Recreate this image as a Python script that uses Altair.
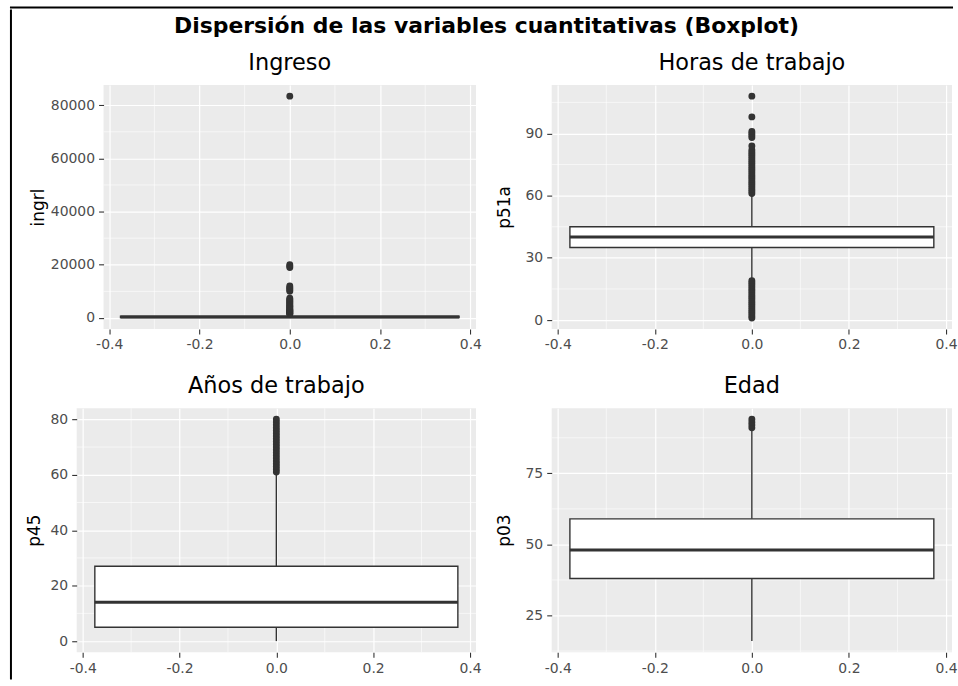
import altair as alt
import pandas as pd

# ---------------- data ----------------
MAIN_TITLE = "Dispersión de las variables cuantitativas (Boxplot)"
PANEL_TITLES = ["Ingreso", "Horas de trabajo", "Años de trabajo", "Edad"]
VAR_NAMES = ["ingrl", "p51a", "p45", "p03"]

# box statistics per variable
Q1 = [150, 35, 5, 38]
MEDIAN = [380, 40, 14, 48]
Q3 = [650, 45, 27, 59]
WHISK_LO = [0, 20, 0, 16]
WHISK_HI = [1400, 60, 60, 90]

# outliers per variable
OUT_INGRL = [1450, 1600, 1800, 2000, 2200, 2400, 2600, 2800, 3000, 3300, 3600,
             4000, 4300, 4600, 5000, 5400, 5800, 6200, 6600, 7000, 7400,
             10000, 10500, 11000, 11500, 12000, 19000, 19500, 20000, 83400]
OUT_P51A = [1, 2, 3, 4, 5, 6, 7, 8, 9, 10, 11, 12, 13, 14, 15, 16, 17, 18, 19,
            61, 62, 63, 64, 65, 66, 67, 68, 69, 70, 71, 72, 73, 74, 75, 76, 77,
            78, 79, 80, 81, 82, 84, 88, 89, 90, 91, 98, 108]
OUT_P45 = [61, 62, 63, 64, 65, 66, 67, 68, 69, 70, 71, 72, 73, 74, 75, 76, 77,
           78, 79, 80]
OUT_P03 = [91, 92, 93, 94]
OUTLIERS = [OUT_INGRL, OUT_P51A, OUT_P45, OUT_P03]

# axis ticks
X_TICKS = [-0.4, -0.2, 0.0, 0.2, 0.4]
X_MINOR = [-0.3, -0.1, 0.1, 0.3]
Y_TICKS = [[0, 20000, 40000, 60000, 80000], [0, 30, 60, 90],
           [0, 20, 40, 60, 80], [25, 50, 75]]
Y_MINOR = [[10000, 30000, 50000, 70000], [15, 45, 75, 105],
           [10, 30, 50, 70], [12.5, 37.5, 62.5, 87.5]]

BOX_HALF = 0.375

# ---------------- styling ----------------
FONT = "DejaVu Sans"
DARK = "#333333"
PANEL_W = [374, 402, 401, 402]
PANEL_H = 245
Y_TITLE_PAD = [3, 12, 7, 12]

x_lim = BOX_HALF * 1.1
xscale = alt.Scale(domain=[-x_lim, x_lim], nice=False, zero=False)
xaxis = alt.Axis(
    values=X_TICKS, title=None, grid=True,
    labelExpr="(datum.value < 0 ? '-' : '') + format(abs(datum.value), '.1f')",
)


def panel(i):
    outs = OUTLIERS[i]
    vals = outs + [WHISK_LO[i], WHISK_HI[i]]
    vmin, vmax = min(vals), max(vals)
    pad = 0.05 * (vmax - vmin)
    yscale = alt.Scale(domain=[vmin - pad, vmax + pad], nice=False, zero=False)
    yaxis = alt.Axis(values=Y_TICKS[i], format="d", title=VAR_NAMES[i], grid=True,
                     titlePadding=Y_TITLE_PAD[i])

    def X(f):
        return alt.X(f + ":Q", scale=xscale, axis=xaxis)

    def Y(f):
        return alt.Y(f + ":Q", scale=yscale, axis=yaxis)

    stats = pd.DataFrame({
        "x0": [0.0], "xmin": [-BOX_HALF], "xmax": [BOX_HALF],
        "q1": [Q1[i]], "med": [MEDIAN[i]], "q3": [Q3[i]],
        "lo": [WHISK_LO[i]], "hi": [WHISK_HI[i]],
    })
    out_df = pd.DataFrame({"x0": [0.0] * len(outs), "v": outs})

    minor_x = alt.Chart(pd.DataFrame({"v": X_MINOR})).mark_rule(
        color="white", strokeWidth=0.6).encode(x=X("v"))
    minor_y = alt.Chart(pd.DataFrame({"v": Y_MINOR[i]})).mark_rule(
        color="white", strokeWidth=0.6).encode(y=Y("v"))
    whisker = alt.Chart(stats).mark_rule(color=DARK, strokeWidth=1.4).encode(
        x=X("x0"), y=Y("lo"), y2="hi")
    box = alt.Chart(stats).mark_rect(fill="white", stroke=DARK, strokeWidth=1.4).encode(
        x=X("xmin"), x2="xmax", y=Y("q1"), y2="q3")
    med = alt.Chart(stats).mark_rule(color=DARK, strokeWidth=3).encode(
        x=X("xmin"), x2="xmax", y=Y("med"))
    pts = alt.Chart(out_df).mark_circle(color=DARK, size=48, opacity=1).encode(
        x=X("x0"), y=Y("v"))

    return alt.layer(minor_x, minor_y, whisker, box, med, pts).properties(
        width=PANEL_W[i], height=PANEL_H,
        title=alt.TitleParams(PANEL_TITLES[i], font=FONT, fontSize=22.5,
                              fontWeight="normal", color="black",
                              anchor="middle", frame="group", offset=10),
    )


blank = pd.DataFrame({"d": [0]})


def spacer():
    # invisible view that anchors each row at the same origin
    return alt.Chart(blank).mark_rule(opacity=0, strokeWidth=0).encode(
        x=alt.value(0), y=alt.value(0), y2=alt.value(1)
    ).properties(width=1, height=10, view=alt.ViewBackground(fill=None, stroke=None))


row1 = alt.hconcat(spacer(), alt.hconcat(panel(0), panel(1), spacing=13), spacing=16)
row2 = alt.hconcat(spacer(), alt.hconcat(panel(2), panel(3), spacing=13), spacing=12)
main = alt.vconcat(
    row1, row2, spacing=23.5,
    title=alt.TitleParams(MAIN_TITLE, font=FONT, fontSize=22, fontWeight="bold",
                          color="black", anchor="middle", offset=14, dx=2),
)

# frame around the figure (decoration)
top_border = alt.Chart(blank).mark_rule(opacity=0, strokeWidth=0).encode(
    x=alt.value(0), y=alt.value(0), y2=alt.value(1)
).properties(width=947, height=2, view=alt.ViewBackground(fill="black", stroke=None))
left_border = alt.Chart(blank).mark_rule(color="black", strokeWidth=2).encode(
    x=alt.value(1), y=alt.value(-76), y2=alt.value(597)
).properties(width=2, height=10, view=alt.ViewBackground(fill=None, stroke=None))

body = alt.hconcat(left_border, main, spacing=0)
chart = alt.vconcat(top_border, body, spacing=0).properties(
    padding={"left": 10, "top": 5, "right": 0, "bottom": 0},
    background="white",
).configure_view(
    stroke=None, fill="#EBEBEB"
).configure_axis(
    domain=False, tickColor=DARK, tickSize=5, tickWidth=1.1,
    labelColor="#4D4D4D", labelFont=FONT, labelFontSize=14, labelPadding=4,
    titleColor="black", titleFont=FONT, titleFontSize=17, titleFontWeight="normal",
    gridColor="white", gridWidth=1.2,
)

chart.save("out.html", embed_options={"renderer": "svg", "actions": False})
